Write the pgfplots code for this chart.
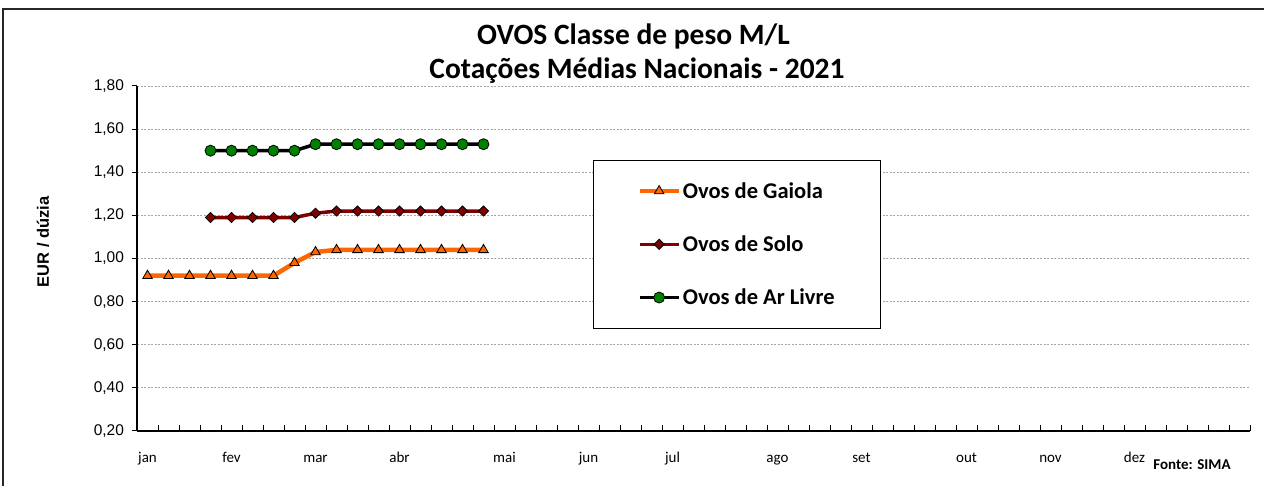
\documentclass[border=0pt]{standalone}
\usepackage{fontspec}
\setmainfont{Carlito}
\newfontfamily\arial{Liberation Sans}
\usepackage{pgfplots}
\pgfplotsset{compat=1.18}
\definecolor{gaiola}{HTML}{FF6600}
\definecolor{solo}{HTML}{800000}
\definecolor{arlivre}{HTML}{008000}
\definecolor{gridgray}{HTML}{A6A6A6}
\begin{document}
\begin{tikzpicture}[x=1bp,y=1bp]
\useasboundingbox (0,0) rectangle (1264,486);
\draw[line width=2bp, black!85] (3,-10) -- (3,477) -- (1280,477);
\begin{axis}[name=ax, at={(137bp,55bp)}, anchor=south west,
  scale only axis, width=1113bp, height=345bp,
  xmin=0.5, xmax=53.5, ymin=0.2, ymax=1.8,
  axis x line*=bottom, axis y line*=left,
  axis line style={line width=1.5bp, black},
  every tick/.style={line width=1bp, black},
  major tick length=5.5bp,
  xtick={0.5,1.5,...,53.5}, xticklabels={},
  xtick align=inside,
  extra x ticks={1,5,9,13,18,22,26,31,35,40,44,48},
  extra x tick labels={jan,fev,mar,abr,mai,jun,jul,ago,set,out,nov,dez},
  extra x tick style={major tick length=0pt, xticklabel style={anchor=base, yshift=-32bp, font=\fontsize{15bp}{18bp}\selectfont}},
  ytick={0.2,0.4,...,1.81},
  ytick align=outside,
  yticklabel style={xshift=-4bp, font=\arial\fontsize{15.5bp}{18bp}\selectfont, /pgf/number format/.cd, fixed, fixed zerofill, precision=2, use comma, assume math mode=true},
  ymajorgrids, major grid style={gridgray, line width=0.8bp, dash pattern=on 2bp off 1.5bp},
  clip=false,
  legend style={at={(0.4097,0.7855)}, anchor=north west, draw=black, line width=0.8bp,
    inner xsep=44bp, inner ysep=20bp, row sep=32bp,
    font=\fontsize{22.5bp}{27bp}\selectfont\bfseries, cells={anchor=west}},
  legend cell align=left,
  legend image code/.code={\draw[mark repeat=2,mark phase=2] plot coordinates {(0bp,0bp)(19.5bp,0bp)(39bp,0bp)};},
]
\addplot[gaiola, line width=4.5bp, mark=triangle*, mark size=5.5bp, mark options={fill=gaiola, draw=black, line width=0.8bp}]
  coordinates {(1,0.92)(2,0.92)(3,0.92)(4,0.92)(5,0.92)(6,0.92)(7,0.92)(8,0.98)(9,1.03)(10,1.04)(11,1.04)(12,1.04)(13,1.04)(14,1.04)(15,1.04)(16,1.04)(17,1.04)};
\addlegendentry{Ovos de Gaiola}
\addplot[solo, line width=3.5bp, mark=square*, mark size=3.6bp, mark options={rotate=45, fill=solo, draw=black, line width=0.8bp}]
  coordinates {(4,1.19)(5,1.19)(6,1.19)(7,1.19)(8,1.19)(9,1.21)(10,1.22)(11,1.22)(12,1.22)(13,1.22)(14,1.22)(15,1.22)(16,1.22)(17,1.22)};
\addlegendentry{Ovos de Solo}
\addplot[black, line width=3.5bp, mark=*, mark size=5.5bp, mark options={fill=arlivre, draw=black, line width=0.8bp}]
  coordinates {(4,1.50)(5,1.50)(6,1.50)(7,1.50)(8,1.50)(9,1.53)(10,1.53)(11,1.53)(12,1.53)(13,1.53)(14,1.53)(15,1.53)(16,1.53)(17,1.53)};
\addlegendentry{Ovos de Ar Livre}
\end{axis}
\node[anchor=base, font=\fontsize{29.5bp}{35bp}\selectfont\bfseries] at (633.5,441) {OVOS Classe de peso M/L};
\node[anchor=base, font=\fontsize{29.5bp}{35bp}\selectfont\bfseries] at (637,407) {Cotações Médias Nacionais - 2021};
\node[rotate=90, font=\arial\fontsize{16.5bp}{19bp}\selectfont\bfseries] at (43,244) {EUR / dúzia};
\node[font=\fontsize{15bp}{18bp}\selectfont\bfseries] at (1192,21) {Fonte: SIMA};
\end{tikzpicture}
\end{document}
